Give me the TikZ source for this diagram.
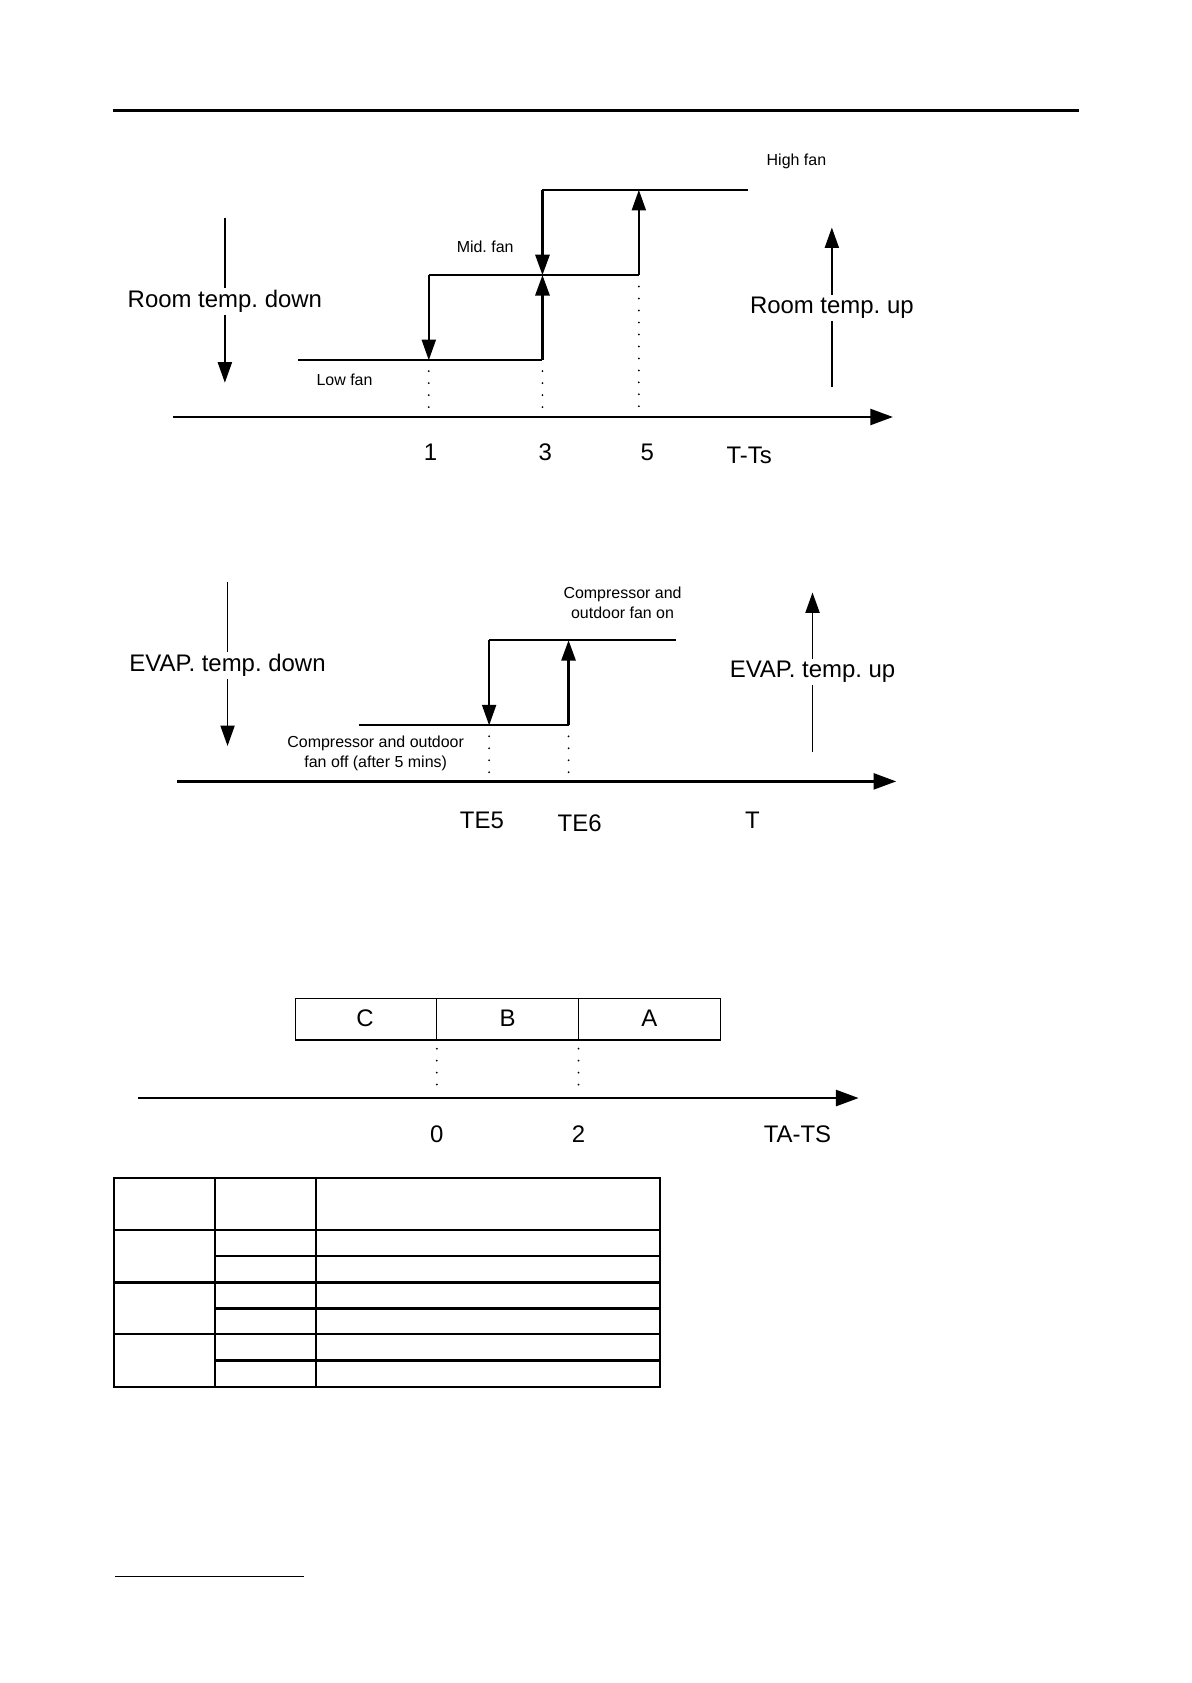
\documentclass[tikz,border=0pt]{standalone}
\usepackage{fontspec}
\setmainfont{Liberation Sans}
\usetikzlibrary{arrows.meta}
\frenchspacing

\tikzset{
	axis/.style={line width=1.4pt,-{Triangle[length=.4cm,width=.28cm]}},
	stepline/.style={line width=1pt},
	thinarrow/.style={line width=.7pt,-{Triangle[length=.36cm,width=.25cm]}},
	thickarrow/.style={line width=1.2pt,-{Triangle[length=.36cm,width=.25cm]}},
	guide/.style={line width=1pt,line cap=round,dash pattern=on 0pt off 6pt},
	biglabel/.style={font=\fontsize{12}{14}\selectfont},
	smalllabel/.style={font=\fontsize{8}{10}\selectfont,align=center},
	gap/.style={fill=white,inner sep=1pt},
	grid line/.style={line width=1pt},
	heavy line/.style={line width=1.6pt}
}

\begin{document}
\begin{tikzpicture}[x=.0189cm,y=-.0189cm]
	\useasboundingbox (0,0) rectangle (1110,1568);

	% page header rule
	\draw[line width=1.1pt] (105,103) -- (1005,103);

	% fan speed vs T-Ts
	\draw[axis] (161.5,388.5) -- (832,388.5);
	\draw[thinarrow] (209.5,203) -- (209.5,356.5);
	\node[biglabel,gap] (roomdown) at (209.5,281) {Room temp. down};
	\draw[thinarrow] (775,361) -- (775,212);
	\node[biglabel,gap] (roomup) at (775,287) {Room temp. up};

	\draw[stepline] (278,335.5) -- (505.4,335.5);
	\draw[stepline] (399.5,256.3) -- (595.2,256.3);
	\draw[stepline] (505.4,177) -- (697,177);
	\draw[thinarrow] (399.5,256.3) -- (399.5,335.5);
	\draw[thickarrow] (505.4,335.5) -- (505.4,256.3);
	\draw[thickarrow] (505.4,177) -- (505.4,256.3);
	\draw[thinarrow] (595.2,256.3) -- (595.2,177);

	\draw[guide] (399.5,345.8) -- (399.5,382);
	\draw[guide] (505.4,345.8) -- (505.4,382);
	\draw[guide] (595.2,267) -- (595.2,382);

	\node[smalllabel] (highfan) at (742,150) {High fan};
	\node[smalllabel] (midfan) at (452,230) {Mid. fan};
	\node[smalllabel] (lowfan) at (321,354) {Low fan};

	\node[biglabel] (tick1) at (401,421) {1};
	\node[biglabel] (tick3) at (508,421) {3};
	\node[biglabel] (tick5) at (603,421) {5};
	\node[biglabel] (ttsaxis) at (698,424) {T-Ts};

	% compressor vs evaporator temp
	\draw[axis] (165,728) -- (835,728);
	\draw[thinarrow] (212,542) -- (212,695);
	\node[biglabel,gap] (evapdown) at (212,620) {EVAP. temp. down};
	\draw[thinarrow] (757,701) -- (757,552);
	\node[biglabel,gap] (evapup) at (757,626) {EVAP. temp. up};

	\draw[stepline] (334,675.7) -- (529.7,675.7);
	\draw[stepline] (455.7,596.5) -- (630,596.5);
	\draw[thinarrow] (455.7,596.5) -- (455.7,675.7);
	\draw[thickarrow] (529.7,675.7) -- (529.7,596.5);

	\draw[guide] (455.7,686) -- (455.7,722);
	\draw[guide] (529.7,686) -- (529.7,722);

	\node[smalllabel] (compon) at (580,562) {Compressor and\\outdoor fan on};
	\node[smalllabel] (compoff) at (350,702) {Compressor and outdoor\\fan off (after 5 mins)};

	\node[biglabel] (te5) at (449,764) {TE5};
	\node[biglabel] (te6) at (540,767) {TE6};
	\node[biglabel] (taxis) at (701,764) {T};

	% zones vs TA-TS
	\draw[line width=.6pt] (275,930) rectangle (671,969);
	\draw[line width=.6pt] (407,930) -- (407,969);
	\draw[line width=.6pt] (539,930) -- (539,969);
	\node[biglabel] (zonec) at (340,949) {C};
	\node[biglabel] (zoneb) at (473,949) {B};
	\node[biglabel] (zonea) at (605,949) {A};

	\draw[guide] (407,977) -- (407,1018);
	\draw[guide] (539,977) -- (539,1018);
	\draw[axis] (129,1023) -- (800,1023);

	\node[biglabel] (tick0) at (407,1057) {0};
	\node[biglabel] (tick2) at (539,1057) {2};
	\node[biglabel] (tatsaxis) at (743,1057) {TA-TS};

	% empty table
	\draw[grid line] (106,1097.2) rectangle (615,1292.3);
	\draw[grid line] (200,1097.2) -- (200,1292.3);
	\draw[grid line] (294.5,1097.2) -- (294.5,1292.3);
	\draw[grid line] (106,1146.3) -- (615,1146.3);
	\draw[heavy line] (106,1195) -- (615,1195);
	\draw[grid line] (106,1243) -- (615,1243);
	\draw[grid line] (200,1170.5) -- (615,1170.5);
	\draw[heavy line] (200,1219) -- (615,1219);
	\draw[heavy line] (200,1267.5) -- (615,1267.5);

	% footnote rule
	\draw[line width=.5pt] (107,1469) -- (283,1469);
\end{tikzpicture}
\end{document}
